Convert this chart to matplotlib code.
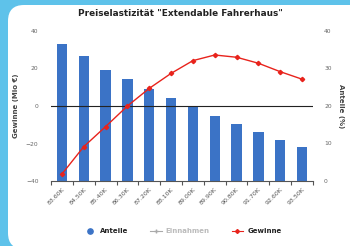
import matplotlib
matplotlib.use("Agg")
import matplotlib.pyplot as plt
from matplotlib.patches import FancyBboxPatch
from matplotlib.lines import Line2D
from matplotlib.transforms import IdentityTransform
import numpy as np

categories = ["83.60K", "84.50K", "85.40K", "86.30K", "87.20K", "88.10K",
              "89.00K", "89.90K", "90.80K", "91.70K", "92.60K", "93.50K"]
anteile = [36.5, 33.3, 29.6, 27.2, 24.5, 22.1, 19.8, 17.4, 15.3, 13.0, 10.9, 9.1]
gewinne = [-36.3, -21.7, -11.0, 0.0, 9.4, 17.4, 24.2, 27.2, 26.0, 22.8, 18.3, 14.3]
left_ticks = [-40, -20, 0, 20, 40]
right_ticks = [0, 10, 20, 30, 40]

W, H = 350, 246
fig = plt.figure(figsize=(W / 100, H / 100), dpi=100)
fig.patch.set_facecolor("#5EC2EA")

panel = FancyBboxPatch((8, -3), 400, H - 5 + 3,
                       boxstyle="round,pad=0,rounding_size=16",
                       transform=IdentityTransform(), facecolor="white",
                       edgecolor="none", zorder=0)
fig.patches.append(panel)

ax = fig.add_axes([51 / W, 1 - 181 / H, 262 / W, 150 / H])
ax2 = ax.twinx()
ax.set_zorder(2)
ax2.set_zorder(1)
ax.patch.set_visible(False)
ax2.patch.set_facecolor("#FBFBFB")

x = np.arange(len(categories))
ax2.bar(x, anteile, width=0.47, color="#3B73C6", zorder=2)
ax2.set_ylim(0, 40)
ax2.set_yticks(right_ticks)

ax.axhline(0, color="#222222", lw=0.8, zorder=3)
ax.plot(x, gewinne, color="#E8231C", lw=1.0, marker="D", ms=2.2, zorder=4)
ax.set_ylim(-40, 40)
ax.set_yticks(left_ticks)
ax.set_xlim(-0.5, len(categories) - 0.5)

for a in (ax, ax2):
    for s in a.spines.values():
        s.set_visible(False)
ax.tick_params(axis="y", length=0, labelsize=4.3, labelcolor="#666666", pad=9)
ax2.tick_params(axis="y", length=0, labelsize=4.3, labelcolor="#666666", pad=8)
ax.spines["bottom"].set_visible(True)
ax.spines["bottom"].set_color("#555555")
ax.spines["bottom"].set_linewidth(0.8)

ax.set_xticks(x)
ax.set_xticklabels(categories, rotation=45, ha="right", rotation_mode="anchor",
                   fontsize=4.5, color="#555555")
ax.tick_params(axis="x", which="major", length=0, pad=4)
ax.set_xticks(np.arange(-0.5, len(categories)), minor=True)
ax.tick_params(axis="x", which="minor", length=3, color="#555555", width=0.8)

ax.set_ylabel("Gewinne (Mio €)", fontsize=5, fontweight="bold", color="#444444", labelpad=5)
ax2.set_ylabel("Anteile (%)", fontsize=5, fontweight="bold", color="#444444",
               rotation=270, labelpad=9)

fig.text(180 / W, 1 - 14 / H, 'Preiselastizität "Extendable Fahrerhaus"',
         ha="center", va="center", fontsize=6.4, fontweight="bold", color="#222222")

handles = [
    Line2D([], [], color="#3B73C6", marker="o", ls="none", ms=3.8),
    Line2D([], [], color="#AAAAAA", marker="+", lw=0.8, ms=3),
    Line2D([], [], color="#E8231C", marker="D", lw=0.8, ms=2),
]
leg = fig.legend(handles, ["Anteile", "Einnahmen", "Gewinne"], loc="center",
                 bbox_to_anchor=(183 / W, 1 - 231 / H), ncol=3, frameon=False,
                 fontsize=5, handlelength=1.6, columnspacing=3.2, handletextpad=0.6)
cols = ["#222222", "#BBBBBB", "#222222"]
for t, c in zip(leg.get_texts(), cols):
    t.set_fontweight("bold")
    t.set_color(c)

fig.savefig("out.png", dpi=100, facecolor=fig.get_facecolor())
